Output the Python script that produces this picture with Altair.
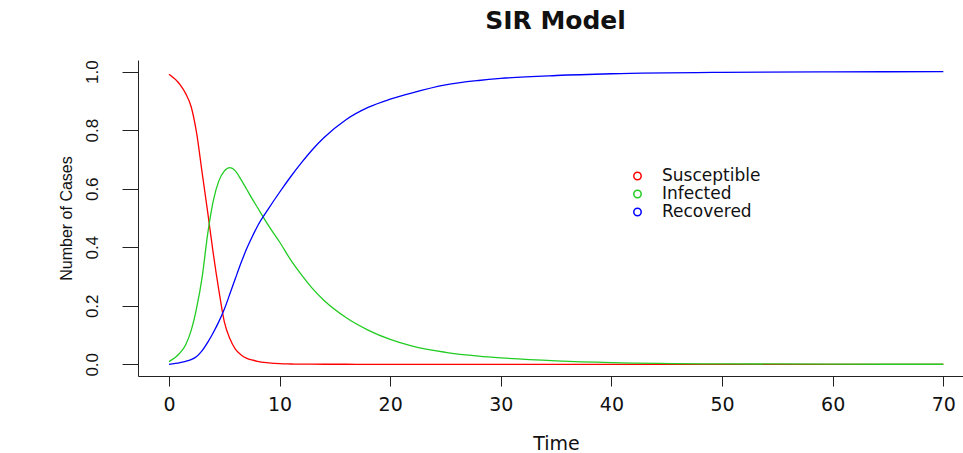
import altair as alt
import pandas as pd

time = [0, 1, 1.5, 2, 2.5, 3, 3.5, 4, 4.5, 5, 5.5, 6, 6.5, 7, 7.5, 8, 9, 10,
        11, 12, 13, 14, 16, 18, 20, 22, 25, 28, 30, 35, 40, 50, 60, 70]
susceptible = [0.991, 0.956, 0.926, 0.881, 0.79, 0.654, 0.52, 0.38, 0.255, 0.146,
               0.088, 0.052, 0.033, 0.021, 0.015, 0.01, 0.005, 0.002,
               0.001, 0.0005, 0.0003, 0.0002, 0.0001, 0, 0, 0, 0, 0, 0, 0, 0, 0, 0, 0]
infected = [0.009, 0.039, 0.066, 0.115, 0.193, 0.298, 0.446, 0.558, 0.626, 0.66,
            0.672, 0.661, 0.632, 0.6, 0.567, 0.536, 0.474, 0.418,
            0.357, 0.305, 0.258, 0.219, 0.16, 0.117, 0.085, 0.062, 0.041, 0.028,
            0.022, 0.012, 0.006, 0.0015, 0.0004, 0.0001]
recovered = [0, 0.006, 0.01, 0.016, 0.027, 0.047, 0.075, 0.108, 0.145, 0.188,
             0.24, 0.293, 0.345, 0.393, 0.434, 0.472, 0.532, 0.588,
             0.641, 0.69, 0.735, 0.774, 0.836, 0.878, 0.906, 0.928, 0.955, 0.97,
             0.977, 0.987, 0.993, 0.998, 0.9995, 1.0]

series_names = ["Susceptible", "Infected", "Recovered"]
series_colors = ["#ff0000", "#22cc22", "#0000ff"]
x_ticks = [0, 10, 20, 30, 40, 50, 60, 70]
y_ticks = [0.0, 0.2, 0.4, 0.6, 0.8, 1.0]

rows = []
for name, vals in zip(series_names, [susceptible, infected, recovered]):
    for t, v in zip(time, vals):
        rows.append({"Time": t, "Value": v, "Series": name})
df = pd.DataFrame(rows)

chart = alt.Chart(df).mark_line(strokeWidth=1.3, interpolate="monotone").encode(
    x=alt.X("Time:Q",
            scale=alt.Scale(domain=[-2.8, 71.78], nice=False, zero=False),
            axis=alt.Axis(values=x_ticks, title="Time", grid=False,
                          tickSize=10, tickColor="#222", domainColor="#222",
                          labelFont="DejaVu Sans", labelFontSize=19, labelColor="#111",
                          labelPadding=9, labelFlush=False,
                          titleFont="DejaVu Sans", titleFontSize=19, titleFontWeight="normal",
                          titleColor="#111", titleX=418, titleY=73,
                          titleBaseline="alphabetic", titleAlign="center")),
    y=alt.Y("Value:Q",
            scale=alt.Scale(domain=[-0.04, 1.04], nice=False, zero=False),
            axis=alt.Axis(values=y_ticks, format=".1f", title="Number of Cases", grid=False,
                          tickSize=16, tickColor="#222", domainColor="#222",
                          labelFont="Liberation Sans", labelFontSize=17,
                          labelColor="#111", labelAngle=270, labelAlign="center",
                          labelBaseline="alphabetic", labelPadding=25, labelFlush=False,
                          titleFont="Liberation Sans", titleFontSize=16,
                          titleFontWeight="normal", titleColor="#111",
                          titleAngle=270, titleX=-67, titleY=158,
                          titleBaseline="alphabetic", titleAlign="center")),
    color=alt.Color("Series:N",
                    scale=alt.Scale(domain=series_names, range=series_colors),
                    sort=series_names,
                    legend=alt.Legend(title=None, orient="none", legendX=491, legendY=107.5,
                                      symbolType="circle", symbolSize=55,
                                      symbolStrokeWidth=1.5, symbolFillColor="transparent",
                                      labelFont="DejaVu Sans", labelFontSize=17,
                                      labelColor="#111", labelOffset=16,
                                      rowPadding=0, padding=0)),
).properties(
    width=825, height=316,
    title=alt.TitleParams("SIR Model", font="DejaVu Sans", fontSize=25, fontWeight="bold",
                          color="#111", anchor="middle", dx=5, offset=26),
    autosize=alt.AutoSizeParams(type="none"),
    padding={"left": 138, "top": 60, "right": 0, "bottom": 77},
    background="white",
).configure_view(stroke=None)

chart.save("out.html", embed_options={"renderer": "svg", "actions": False})
